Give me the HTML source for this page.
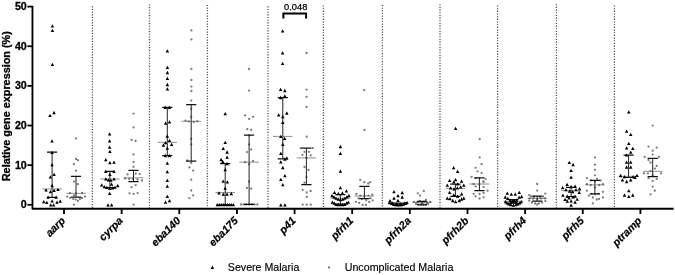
<!DOCTYPE html>
<html lang="en"><head><meta charset="utf-8"><title>Relative gene expression</title>
<style>html,body{margin:0;padding:0;background:#fff}body{width:675px;height:275px;overflow:hidden}svg{display:block}text{font-family:"Liberation Sans",Arial,Helvetica,sans-serif;fill:#000}.b{font-weight:bold}.g{font-weight:bold;font-style:italic;font-size:10.7px;stroke:#000;stroke-width:.22px}.t{font-weight:bold;font-size:10.7px;stroke:#000;stroke-width:.3px}.bar{stroke:#222;stroke-width:1;fill:none}.ax{stroke:#000;stroke-width:1.85;fill:none;stroke-linejoin:round}.dot{stroke:#4a4a4a;stroke-width:1.3;stroke-dasharray:1.1 1.57;fill:none}</style></head><body>
<svg width="675" height="275" viewBox="0 0 675 275">
<rect width="675" height="275" fill="#fff"/>
<g class="dot">
<path d="M92.4 6.3V207.8"/>
<path d="M149.5 4.4V207.8"/>
<path d="M207.4 4.9V207.8"/>
<path d="M268 6.3V207.8" stroke-width="2.1" stroke="#8c8c8c"/>
<path d="M323.4 5.5V207.8"/>
<path d="M382.4 5V207.8"/>
<path d="M440 4.2V207.8" stroke-width="2.1" stroke="#8c8c8c"/>
<path d="M497.6 5.5V207.8"/>
<path d="M556.4 4.2V207.8"/>
<path d="M614.4 5.5V207.8"/>
</g>
<g fill="#7c7c7c">
<circle cx="76" cy="138.4" r="1.15"/>
<circle cx="76" cy="159" r="1.15"/>
<circle cx="78" cy="160.2" r="1.15"/>
<circle cx="74" cy="164" r="1.15"/>
<circle cx="76" cy="170.7" r="1.15"/>
<circle cx="74" cy="181.6" r="1.15"/>
<circle cx="77.9" cy="184.1" r="1.15"/>
<circle cx="70" cy="193.2" r="1.15"/>
<circle cx="76" cy="193.5" r="1.15"/>
<circle cx="82.1" cy="193" r="1.15"/>
<circle cx="67.2" cy="196.6" r="1.15"/>
<circle cx="85" cy="196.6" r="1.15"/>
<circle cx="70.2" cy="197.9" r="1.15"/>
<circle cx="82" cy="197.9" r="1.15"/>
<circle cx="74" cy="195.3" r="1.15"/>
<circle cx="73.3" cy="198.9" r="1.15"/>
<circle cx="79.9" cy="198.9" r="1.15"/>
<circle cx="75.8" cy="199.6" r="1.15"/>
<circle cx="77.9" cy="200.9" r="1.15"/>
<circle cx="74" cy="204.7" r="1.15"/>
<circle cx="133.6" cy="113.6" r="1.15"/>
<circle cx="133.6" cy="127.4" r="1.15"/>
<circle cx="131.6" cy="140" r="1.15"/>
<circle cx="135.6" cy="141" r="1.15"/>
<circle cx="133.5" cy="154.4" r="1.15"/>
<circle cx="133.5" cy="161.9" r="1.15"/>
<circle cx="133.5" cy="166.8" r="1.15"/>
<circle cx="127.5" cy="174.4" r="1.15"/>
<circle cx="135.7" cy="173.7" r="1.15"/>
<circle cx="139.7" cy="174.1" r="1.15"/>
<circle cx="125.2" cy="178.5" r="1.15"/>
<circle cx="142" cy="180.5" r="1.15"/>
<circle cx="129.2" cy="179" r="1.15"/>
<circle cx="132.8" cy="179" r="1.15"/>
<circle cx="137.4" cy="179.5" r="1.15"/>
<circle cx="135.7" cy="185.1" r="1.15"/>
<circle cx="131.6" cy="187.2" r="1.15"/>
<circle cx="129.5" cy="193.3" r="1.15"/>
<circle cx="133.6" cy="193.8" r="1.15"/>
<circle cx="137.6" cy="193.1" r="1.15"/>
<circle cx="133.6" cy="204.7" r="1.15"/>
<circle cx="191.4" cy="30.4" r="1.15"/>
<circle cx="191.4" cy="39.4" r="1.15"/>
<circle cx="191.4" cy="69" r="1.15"/>
<circle cx="191.4" cy="80" r="1.15"/>
<circle cx="191.4" cy="86.6" r="1.15"/>
<circle cx="191.4" cy="91" r="1.15"/>
<circle cx="191.3" cy="100.6" r="1.15"/>
<circle cx="191.2" cy="108.8" r="1.15"/>
<circle cx="191.2" cy="117" r="1.15"/>
<circle cx="185.5" cy="120.6" r="1.15"/>
<circle cx="188.7" cy="121.5" r="1.15"/>
<circle cx="193.7" cy="122" r="1.15"/>
<circle cx="197.2" cy="121.3" r="1.15"/>
<circle cx="191.2" cy="139" r="1.15"/>
<circle cx="191.2" cy="144.4" r="1.15"/>
<circle cx="187.3" cy="160.3" r="1.15"/>
<circle cx="191.2" cy="162.9" r="1.15"/>
<circle cx="189.4" cy="167.4" r="1.15"/>
<circle cx="193.2" cy="170.6" r="1.15"/>
<circle cx="191.2" cy="179.7" r="1.15"/>
<circle cx="191.2" cy="190.5" r="1.15"/>
<circle cx="193.2" cy="195.3" r="1.15"/>
<circle cx="189.4" cy="198.2" r="1.15"/>
<circle cx="249" cy="69" r="1.15"/>
<circle cx="249" cy="90.6" r="1.15"/>
<circle cx="245.1" cy="115.4" r="1.15"/>
<circle cx="253.1" cy="116.8" r="1.15"/>
<circle cx="249.1" cy="118.9" r="1.15"/>
<circle cx="247.2" cy="129.2" r="1.15"/>
<circle cx="251.2" cy="129.9" r="1.15"/>
<circle cx="249.1" cy="135.4" r="1.15"/>
<circle cx="249.1" cy="144.4" r="1.15"/>
<circle cx="251.2" cy="149.4" r="1.15"/>
<circle cx="246.9" cy="152.1" r="1.15"/>
<circle cx="245.1" cy="162.2" r="1.15"/>
<circle cx="253.1" cy="161" r="1.15"/>
<circle cx="249.1" cy="164.2" r="1.15"/>
<circle cx="249.1" cy="181.5" r="1.15"/>
<circle cx="246.9" cy="187.9" r="1.15"/>
<circle cx="251.2" cy="188.6" r="1.15"/>
<circle cx="241" cy="204.5" r="1.15"/>
<circle cx="243.6" cy="204.5" r="1.15"/>
<circle cx="246.2" cy="204.5" r="1.15"/>
<circle cx="249" cy="204.5" r="1.15"/>
<circle cx="251.8" cy="204.5" r="1.15"/>
<circle cx="254.6" cy="204.5" r="1.15"/>
<circle cx="257.4" cy="204.5" r="1.15"/>
<circle cx="306.6" cy="53" r="1.15"/>
<circle cx="306.6" cy="89.6" r="1.15"/>
<circle cx="306.6" cy="96.8" r="1.15"/>
<circle cx="306.6" cy="107" r="1.15"/>
<circle cx="306.7" cy="136.7" r="1.15"/>
<circle cx="300.7" cy="148.2" r="1.15"/>
<circle cx="312.8" cy="148.2" r="1.15"/>
<circle cx="304.5" cy="151.8" r="1.15"/>
<circle cx="308.8" cy="151.8" r="1.15"/>
<circle cx="302.4" cy="154.9" r="1.15"/>
<circle cx="310.7" cy="155.3" r="1.15"/>
<circle cx="306.4" cy="157.9" r="1.15"/>
<circle cx="304.5" cy="167" r="1.15"/>
<circle cx="308.5" cy="170" r="1.15"/>
<circle cx="306.4" cy="177.2" r="1.15"/>
<circle cx="304.5" cy="182.7" r="1.15"/>
<circle cx="302.7" cy="189.8" r="1.15"/>
<circle cx="310.7" cy="191" r="1.15"/>
<circle cx="306.7" cy="192.5" r="1.15"/>
<circle cx="306.7" cy="196.9" r="1.15"/>
<circle cx="302.7" cy="204.7" r="1.15"/>
<circle cx="306.7" cy="204.7" r="1.15"/>
<circle cx="310.7" cy="204.7" r="1.15"/>
<circle cx="364.2" cy="90.2" r="1.15"/>
<circle cx="364.4" cy="130" r="1.15"/>
<circle cx="360.2" cy="179.8" r="1.15"/>
<circle cx="364.3" cy="182.2" r="1.15"/>
<circle cx="368.3" cy="183.5" r="1.15"/>
<circle cx="370.2" cy="182.2" r="1.15"/>
<circle cx="356.4" cy="194" r="1.15"/>
<circle cx="372.3" cy="194.7" r="1.15"/>
<circle cx="360.3" cy="195.6" r="1.15"/>
<circle cx="368.4" cy="195.6" r="1.15"/>
<circle cx="364.4" cy="196" r="1.15"/>
<circle cx="370.5" cy="198.2" r="1.15"/>
<circle cx="372.7" cy="200.4" r="1.15"/>
<circle cx="366.2" cy="200" r="1.15"/>
<circle cx="356" cy="201.8" r="1.15"/>
<circle cx="369.3" cy="202" r="1.15"/>
<circle cx="359.1" cy="202.9" r="1.15"/>
<circle cx="362.7" cy="204.9" r="1.15"/>
<circle cx="366" cy="204.9" r="1.15"/>
<circle cx="358.5" cy="198.4" r="1.15"/>
<circle cx="362" cy="198.9" r="1.15"/>
<circle cx="423.8" cy="190.9" r="1.15"/>
<circle cx="417.8" cy="193.3" r="1.15"/>
<circle cx="420" cy="195.6" r="1.15"/>
<circle cx="426" cy="199.8" r="1.15"/>
<circle cx="420" cy="200.9" r="1.15"/>
<circle cx="414" cy="202" r="1.15"/>
<circle cx="430" cy="202" r="1.15"/>
<circle cx="416" cy="204" r="1.15"/>
<circle cx="418.5" cy="204.3" r="1.15"/>
<circle cx="421" cy="204.5" r="1.15"/>
<circle cx="423.5" cy="204.5" r="1.15"/>
<circle cx="426" cy="204.3" r="1.15"/>
<circle cx="428" cy="204" r="1.15"/>
<circle cx="417" cy="202.6" r="1.15"/>
<circle cx="422" cy="202.8" r="1.15"/>
<circle cx="427" cy="202.6" r="1.15"/>
<circle cx="424" cy="201.6" r="1.15"/>
<circle cx="479.7" cy="139.2" r="1.15"/>
<circle cx="479.7" cy="157.4" r="1.15"/>
<circle cx="481.6" cy="164.2" r="1.15"/>
<circle cx="475.6" cy="167.8" r="1.15"/>
<circle cx="477.6" cy="171.3" r="1.15"/>
<circle cx="481.6" cy="173.1" r="1.15"/>
<circle cx="471.6" cy="176.9" r="1.15"/>
<circle cx="475.6" cy="178.2" r="1.15"/>
<circle cx="485.6" cy="179.1" r="1.15"/>
<circle cx="483.3" cy="181.3" r="1.15"/>
<circle cx="473.6" cy="184" r="1.15"/>
<circle cx="483.6" cy="182" r="1.15"/>
<circle cx="475.6" cy="186.4" r="1.15"/>
<circle cx="483.6" cy="186.9" r="1.15"/>
<circle cx="487.6" cy="190.7" r="1.15"/>
<circle cx="483.6" cy="192.9" r="1.15"/>
<circle cx="473.6" cy="193.8" r="1.15"/>
<circle cx="479.6" cy="194" r="1.15"/>
<circle cx="475.6" cy="196.3" r="1.15"/>
<circle cx="483.6" cy="197.3" r="1.15"/>
<circle cx="479.6" cy="198.5" r="1.15"/>
<circle cx="479.4" cy="184.2" r="1.15"/>
<circle cx="537.2" cy="184" r="1.15"/>
<circle cx="537.2" cy="190.6" r="1.15"/>
<circle cx="545.3" cy="193.6" r="1.15"/>
<circle cx="529.3" cy="195.2" r="1.15"/>
<circle cx="531" cy="196.5" r="1.15"/>
<circle cx="534" cy="197" r="1.15"/>
<circle cx="540" cy="197" r="1.15"/>
<circle cx="543" cy="196.5" r="1.15"/>
<circle cx="529.5" cy="198.4" r="1.15"/>
<circle cx="533" cy="198.6" r="1.15"/>
<circle cx="541" cy="198.6" r="1.15"/>
<circle cx="545" cy="198.4" r="1.15"/>
<circle cx="529.3" cy="200.7" r="1.15"/>
<circle cx="545.3" cy="201.1" r="1.15"/>
<circle cx="532" cy="202.5" r="1.15"/>
<circle cx="535" cy="203.5" r="1.15"/>
<circle cx="539" cy="203.5" r="1.15"/>
<circle cx="542" cy="202.5" r="1.15"/>
<circle cx="537.2" cy="204.5" r="1.15"/>
<circle cx="537.2" cy="199" r="1.15"/>
<circle cx="594.9" cy="157.3" r="1.15"/>
<circle cx="594.9" cy="164.7" r="1.15"/>
<circle cx="594.9" cy="169.8" r="1.15"/>
<circle cx="594.9" cy="175.3" r="1.15"/>
<circle cx="586.9" cy="178.1" r="1.15"/>
<circle cx="597.1" cy="178.9" r="1.15"/>
<circle cx="590.9" cy="180.4" r="1.15"/>
<circle cx="600.7" cy="180.4" r="1.15"/>
<circle cx="594.9" cy="181.5" r="1.15"/>
<circle cx="586.9" cy="184.2" r="1.15"/>
<circle cx="602.9" cy="184.2" r="1.15"/>
<circle cx="590.9" cy="185" r="1.15"/>
<circle cx="599.2" cy="185" r="1.15"/>
<circle cx="594.9" cy="187.6" r="1.15"/>
<circle cx="586.9" cy="190.7" r="1.15"/>
<circle cx="602.9" cy="191.8" r="1.15"/>
<circle cx="591.5" cy="193.8" r="1.15"/>
<circle cx="594.9" cy="194.3" r="1.15"/>
<circle cx="598.5" cy="193.8" r="1.15"/>
<circle cx="588.9" cy="195.7" r="1.15"/>
<circle cx="592.8" cy="197.5" r="1.15"/>
<circle cx="602.9" cy="197.5" r="1.15"/>
<circle cx="596.7" cy="199.5" r="1.15"/>
<circle cx="598.9" cy="199" r="1.15"/>
<circle cx="592.8" cy="203.4" r="1.15"/>
<circle cx="652.7" cy="125.6" r="1.15"/>
<circle cx="648.5" cy="146.6" r="1.15"/>
<circle cx="656.7" cy="147.6" r="1.15"/>
<circle cx="652.7" cy="150.7" r="1.15"/>
<circle cx="652.7" cy="154.6" r="1.15"/>
<circle cx="644.7" cy="156.9" r="1.15"/>
<circle cx="658.9" cy="156.9" r="1.15"/>
<circle cx="648.5" cy="160.1" r="1.15"/>
<circle cx="650.5" cy="162.5" r="1.15"/>
<circle cx="656.7" cy="165.9" r="1.15"/>
<circle cx="654.8" cy="168.6" r="1.15"/>
<circle cx="650.5" cy="171.2" r="1.15"/>
<circle cx="643.9" cy="173.4" r="1.15"/>
<circle cx="647.9" cy="173.4" r="1.15"/>
<circle cx="661.1" cy="173.4" r="1.15"/>
<circle cx="652.7" cy="175.5" r="1.15"/>
<circle cx="648.5" cy="178.2" r="1.15"/>
<circle cx="656.7" cy="178.9" r="1.15"/>
<circle cx="652.7" cy="181.1" r="1.15"/>
<circle cx="652.7" cy="186.6" r="1.15"/>
<circle cx="654.8" cy="190.7" r="1.15"/>
<circle cx="650.6" cy="194.3" r="1.15"/>
</g>
<g class="bar">
<path d="M52.1 152.2V197.3"/>
<path stroke="#111" stroke-width="1.25" d="M47 152.2H57.2M47 197.3H57.2"/>
<path stroke="#555" stroke-width="0.65" d="M42.3 189H61.9"/>
<path d="M76 176.3V197"/>
<path stroke="#111" stroke-width="1.25" d="M70.9 176.3H81.1M70.9 197H81.1"/>
<path stroke="#555" stroke-width="0.65" d="M66.2 193.3H85.8"/>
<path d="M109.9 171.4V187.7"/>
<path stroke="#111" stroke-width="1.25" d="M104.8 171.4H115M104.8 187.7H115"/>
<path stroke="#555" stroke-width="0.65" d="M100.1 179H119.7"/>
<path d="M133.5 170.4V181.6"/>
<path stroke="#111" stroke-width="1.25" d="M128.4 170.4H138.6M128.4 181.6H138.6"/>
<path stroke="#555" stroke-width="0.65" d="M123.7 177.8H143.3"/>
<path d="M167.3 107.4V155.6"/>
<path stroke="#111" stroke-width="1.25" d="M162.2 107.4H172.4M162.2 155.6H172.4"/>
<path stroke="#555" stroke-width="0.65" d="M157.5 142.3H177.1"/>
<path d="M191.2 104.5V161"/>
<path stroke="#111" stroke-width="1.25" d="M186.1 104.5H196.3M186.1 161H196.3"/>
<path stroke="#555" stroke-width="0.65" d="M181.4 121.3H201"/>
<path d="M225.2 163.6V204.9"/>
<path stroke="#111" stroke-width="1.25" d="M220.1 163.6H230.3M220.1 204.9H230.3"/>
<path stroke="#555" stroke-width="0.65" d="M215.4 192.5H235"/>
<path d="M249.1 135.2V204.4"/>
<path stroke="#111" stroke-width="1.25" d="M244 135.2H254.2M244 204.4H254.2"/>
<path stroke="#555" stroke-width="0.65" d="M239.3 162.2H258.9"/>
<path d="M282.8 97.6V158.9"/>
<path stroke="#111" stroke-width="1.25" d="M277.7 97.6H287.9M277.7 158.9H287.9"/>
<path stroke="#555" stroke-width="0.65" d="M273 136.4H292.6"/>
<path d="M306.4 148.2V184.6"/>
<path stroke="#111" stroke-width="1.25" d="M301.3 148.2H311.5M301.3 184.6H311.5"/>
<path stroke="#555" stroke-width="0.65" d="M296.6 157.9H316.2"/>
<path d="M340.4 194.5V204.2"/>
<path stroke="#111" stroke-width="1.25" d="M335.3 194.5H345.5M335.3 204.2H345.5"/>
<path stroke="#555" stroke-width="0.65" d="M330.6 198.2H350.2"/>
<path d="M364.4 186.3V198.7"/>
<path stroke="#111" stroke-width="1.25" d="M359.3 186.3H369.5M359.3 198.7H369.5"/>
<path stroke="#555" stroke-width="0.65" d="M354.6 196H374.2"/>
<path d="M398 203V205"/>
<path stroke="#111" stroke-width="1.25" d="M392.9 203H403.1M392.9 205H403.1"/>
<path stroke="#555" stroke-width="0.65" d="M388.2 204H407.8"/>
<path d="M422 201.3V204.9"/>
<path stroke="#111" stroke-width="1.25" d="M416.9 201.3H427.1M416.9 204.9H427.1"/>
<path stroke="#555" stroke-width="0.65" d="M412.2 202.4H431.8"/>
<path d="M455.4 184V196.4"/>
<path stroke="#111" stroke-width="1.25" d="M450.3 184H460.5M450.3 196.4H460.5"/>
<path stroke="#555" stroke-width="0.65" d="M445.6 188.4H465.2"/>
<path d="M479.4 177.8V190.5"/>
<path stroke="#111" stroke-width="1.25" d="M474.3 177.8H484.5M474.3 190.5H484.5"/>
<path stroke="#555" stroke-width="0.65" d="M469.6 184H489.2"/>
<path d="M513.4 199.6V203.2"/>
<path stroke="#111" stroke-width="1.25" d="M508.3 199.6H518.5M508.3 203.2H518.5"/>
<path stroke="#555" stroke-width="0.65" d="M503.6 201.2H523.2"/>
<path d="M537.2 196.2V201.1"/>
<path stroke="#111" stroke-width="1.25" d="M532.1 196.2H542.3M532.1 201.1H542.3"/>
<path stroke="#555" stroke-width="0.65" d="M527.4 198.4H547"/>
<path d="M571.1 187.4V196.5"/>
<path stroke="#111" stroke-width="1.25" d="M566 187.4H576.2M566 196.5H576.2"/>
<path stroke="#555" stroke-width="0.65" d="M561.3 190.7H580.9"/>
<path d="M594.9 180.4V193.8"/>
<path stroke="#111" stroke-width="1.25" d="M589.8 180.4H600M589.8 193.8H600"/>
<path stroke="#555" stroke-width="0.65" d="M585.1 184.9H604.7"/>
<path d="M628.6 155V177.4"/>
<path stroke="#111" stroke-width="1.25" d="M623.5 155H633.7M623.5 177.4H633.7"/>
<path stroke="#555" stroke-width="0.65" d="M618.8 176.3H638.4"/>
<path d="M652.7 158.4V176.6"/>
<path stroke="#111" stroke-width="1.25" d="M647.6 158.4H657.8M647.6 176.6H657.8"/>
<path stroke="#555" stroke-width="0.65" d="M642.9 171.3H662.5"/>
</g>
<g fill="#000">
<path d="M52.4 24.25l1.75 3.3h-3.5zM52.4 28.65l1.75 3.3h-3.5zM52.4 62.65l1.75 3.3h-3.5zM54 110.85l1.75 3.3h-3.5zM50 113.65l1.75 3.3h-3.5zM52 139.25l1.75 3.3h-3.5zM52.1 150.75l1.75 3.3h-3.5zM52.1 163.05l1.75 3.3h-3.5zM54.1 172.65l1.75 3.3h-3.5zM50.4 175.25l1.75 3.3h-3.5zM52.1 183.85l1.75 3.3h-3.5zM46 188.25l1.75 3.3h-3.5zM58 187.65l1.75 3.3h-3.5zM54.1 188.65l1.75 3.3h-3.5zM50.4 189.95l1.75 3.3h-3.5zM48.1 195.55l1.75 3.3h-3.5zM56.2 195.55l1.75 3.3h-3.5zM52.1 199.15l1.75 3.3h-3.5zM60.2 199.45l1.75 3.3h-3.5zM43.7 199.95l1.75 3.3h-3.5zM46.8 200.65l1.75 3.3h-3.5zM57 200.45l1.75 3.3h-3.5zM50.7 203.25l1.75 3.3h-3.5zM53.6 203.25l1.75 3.3h-3.5zM109.6 132.25l1.75 3.3h-3.5zM109.6 139.25l1.75 3.3h-3.5zM109.6 145.45l1.75 3.3h-3.5zM109.9 149.75l1.75 3.3h-3.5zM105.8 157.95l1.75 3.3h-3.5zM109.9 160.95l1.75 3.3h-3.5zM114 160.45l1.75 3.3h-3.5zM105.8 169.65l1.75 3.3h-3.5zM114 169.65l1.75 3.3h-3.5zM109.9 172.65l1.75 3.3h-3.5zM105.8 177.25l1.75 3.3h-3.5zM114 177.25l1.75 3.3h-3.5zM108.4 178.25l1.75 3.3h-3.5zM110.9 178.55l1.75 3.3h-3.5zM101.7 183.15l1.75 3.3h-3.5zM111.6 182.55l1.75 3.3h-3.5zM117.7 183.85l1.75 3.3h-3.5zM104.3 184.95l1.75 3.3h-3.5zM106.8 185.65l1.75 3.3h-3.5zM115 185.45l1.75 3.3h-3.5zM112.4 186.25l1.75 3.3h-3.5zM109.7 186.75l1.75 3.3h-3.5zM109.7 191.75l1.75 3.3h-3.5zM108 203.25l1.75 3.3h-3.5zM111.6 203.25l1.75 3.3h-3.5zM167.4 49.25l1.75 3.3h-3.5zM167.4 65.65l1.75 3.3h-3.5zM167.4 70.85l1.75 3.3h-3.5zM167.4 76.65l1.75 3.3h-3.5zM167.4 82.85l1.75 3.3h-3.5zM167.4 87.25l1.75 3.3h-3.5zM165.3 105.65l1.75 3.3h-3.5zM169.4 105.65l1.75 3.3h-3.5zM165.6 121.45l1.75 3.3h-3.5zM169.5 120.25l1.75 3.3h-3.5zM167.3 134.45l1.75 3.3h-3.5zM169.5 138.65l1.75 3.3h-3.5zM165.5 141.05l1.75 3.3h-3.5zM163.4 143.35l1.75 3.3h-3.5zM171.6 142.65l1.75 3.3h-3.5zM167.3 146.45l1.75 3.3h-3.5zM165.3 153.85l1.75 3.3h-3.5zM169.4 153.85l1.75 3.3h-3.5zM167.3 161.45l1.75 3.3h-3.5zM167.3 170.05l1.75 3.3h-3.5zM167.3 178.75l1.75 3.3h-3.5zM167.3 184.45l1.75 3.3h-3.5zM167.3 194.65l1.75 3.3h-3.5zM169.5 198.95l1.75 3.3h-3.5zM165.5 200.35l1.75 3.3h-3.5zM225.2 112.05l1.75 3.3h-3.5zM225.2 140.75l1.75 3.3h-3.5zM223.2 146.75l1.75 3.3h-3.5zM227.1 150.35l1.75 3.3h-3.5zM227.1 155.45l1.75 3.3h-3.5zM221.1 157.85l1.75 3.3h-3.5zM222.8 159.95l1.75 3.3h-3.5zM227.1 161.85l1.75 3.3h-3.5zM225.2 167.95l1.75 3.3h-3.5zM223.2 179.45l1.75 3.3h-3.5zM227.4 180.15l1.75 3.3h-3.5zM225.2 186.55l1.75 3.3h-3.5zM219 191.15l1.75 3.3h-3.5zM231.3 191.85l1.75 3.3h-3.5zM223.2 192.55l1.75 3.3h-3.5zM227.1 192.55l1.75 3.3h-3.5zM217.3 202.95l1.75 3.3h-3.5zM219.3 202.95l1.75 3.3h-3.5zM221.3 202.95l1.75 3.3h-3.5zM223.3 202.95l1.75 3.3h-3.5zM225.3 202.95l1.75 3.3h-3.5zM227.3 202.95l1.75 3.3h-3.5zM229.3 202.95l1.75 3.3h-3.5zM231.3 202.95l1.75 3.3h-3.5zM233.3 202.95l1.75 3.3h-3.5zM282.6 29.25l1.75 3.3h-3.5zM282.6 51.25l1.75 3.3h-3.5zM282.6 61.65l1.75 3.3h-3.5zM280.6 87.65l1.75 3.3h-3.5zM284.8 88.85l1.75 3.3h-3.5zM284.8 94.25l1.75 3.3h-3.5zM280.6 95.85l1.75 3.3h-3.5zM278.7 113.15l1.75 3.3h-3.5zM286.8 111.35l1.75 3.3h-3.5zM282.8 115.05l1.75 3.3h-3.5zM282.8 120.75l1.75 3.3h-3.5zM280.8 134.65l1.75 3.3h-3.5zM284.6 136.65l1.75 3.3h-3.5zM282.8 142.65l1.75 3.3h-3.5zM280.8 151.75l1.75 3.3h-3.5zM286.8 156.15l1.75 3.3h-3.5zM284.9 157.55l1.75 3.3h-3.5zM280.8 160.25l1.75 3.3h-3.5zM282.8 165.85l1.75 3.3h-3.5zM284.9 174.05l1.75 3.3h-3.5zM280.8 177.65l1.75 3.3h-3.5zM282.8 183.05l1.75 3.3h-3.5zM280.8 203.25l1.75 3.3h-3.5zM284.9 203.25l1.75 3.3h-3.5zM340.4 144.85l1.75 3.3h-3.5zM340.4 151.65l1.75 3.3h-3.5zM340.4 169.45l1.75 3.3h-3.5zM340.4 185.95l1.75 3.3h-3.5zM334.5 190.65l1.75 3.3h-3.5zM346.4 189.15l1.75 3.3h-3.5zM338.4 191.85l1.75 3.3h-3.5zM342.4 191.15l1.75 3.3h-3.5zM332 193.85l1.75 3.3h-3.5zM348.9 193.85l1.75 3.3h-3.5zM334 195.15l1.75 3.3h-3.5zM346.9 195.15l1.75 3.3h-3.5zM336 196.45l1.75 3.3h-3.5zM344.9 196.45l1.75 3.3h-3.5zM338.2 197.55l1.75 3.3h-3.5zM342.8 197.55l1.75 3.3h-3.5zM340.4 198.05l1.75 3.3h-3.5zM332.3 200.45l1.75 3.3h-3.5zM348.4 200.45l1.75 3.3h-3.5zM334.2 201.35l1.75 3.3h-3.5zM346.7 201.35l1.75 3.3h-3.5zM336 202.65l1.75 3.3h-3.5zM338.2 202.85l1.75 3.3h-3.5zM340.4 202.95l1.75 3.3h-3.5zM342.6 202.85l1.75 3.3h-3.5zM344.8 202.65l1.75 3.3h-3.5zM394 190.05l1.75 3.3h-3.5zM402.2 190.85l1.75 3.3h-3.5zM398 193.85l1.75 3.3h-3.5zM402.2 195.35l1.75 3.3h-3.5zM394 196.45l1.75 3.3h-3.5zM398 198.65l1.75 3.3h-3.5zM390 198.95l1.75 3.3h-3.5zM389.5 200.75l1.75 3.3h-3.5zM391.5 201.75l1.75 3.3h-3.5zM393.5 202.55l1.75 3.3h-3.5zM395.5 203.05l1.75 3.3h-3.5zM397.5 203.25l1.75 3.3h-3.5zM399.5 203.25l1.75 3.3h-3.5zM401.5 203.05l1.75 3.3h-3.5zM403.5 202.55l1.75 3.3h-3.5zM405.5 201.75l1.75 3.3h-3.5zM407 200.75l1.75 3.3h-3.5zM392.5 201.35l1.75 3.3h-3.5zM404.4 201.35l1.75 3.3h-3.5zM396.5 202.25l1.75 3.3h-3.5zM400.5 202.25l1.75 3.3h-3.5zM455.6 126.75l1.75 3.3h-3.5zM453.6 166.05l1.75 3.3h-3.5zM457.6 169.65l1.75 3.3h-3.5zM449.6 178.65l1.75 3.3h-3.5zM455.6 178.05l1.75 3.3h-3.5zM461.6 179.45l1.75 3.3h-3.5zM453.8 180.25l1.75 3.3h-3.5zM457.7 182.25l1.75 3.3h-3.5zM447.3 183.55l1.75 3.3h-3.5zM463.8 183.55l1.75 3.3h-3.5zM460.7 185.15l1.75 3.3h-3.5zM450.6 186.25l1.75 3.3h-3.5zM457.4 186.25l1.75 3.3h-3.5zM454 187.15l1.75 3.3h-3.5zM449.6 190.65l1.75 3.3h-3.5zM461.6 192.25l1.75 3.3h-3.5zM453.8 193.15l1.75 3.3h-3.5zM457.6 194.45l1.75 3.3h-3.5zM447.3 196.45l1.75 3.3h-3.5zM463.8 196.45l1.75 3.3h-3.5zM450 196.95l1.75 3.3h-3.5zM461.6 197.35l1.75 3.3h-3.5zM452.7 198.85l1.75 3.3h-3.5zM459.3 198.85l1.75 3.3h-3.5zM455.6 200.05l1.75 3.3h-3.5zM507.3 191.45l1.75 3.3h-3.5zM511.3 192.45l1.75 3.3h-3.5zM515.3 192.45l1.75 3.3h-3.5zM519.3 190.65l1.75 3.3h-3.5zM505.3 195.35l1.75 3.3h-3.5zM521.6 194.85l1.75 3.3h-3.5zM507.8 196.75l1.75 3.3h-3.5zM519.1 195.55l1.75 3.3h-3.5zM510.2 198.55l1.75 3.3h-3.5zM516.6 198.55l1.75 3.3h-3.5zM512.3 199.55l1.75 3.3h-3.5zM514.6 199.55l1.75 3.3h-3.5zM513.4 199.05l1.75 3.3h-3.5zM511 200.35l1.75 3.3h-3.5zM515.8 200.35l1.75 3.3h-3.5zM505.5 200.05l1.75 3.3h-3.5zM521.2 200.05l1.75 3.3h-3.5zM507 201.25l1.75 3.3h-3.5zM519.8 201.25l1.75 3.3h-3.5zM508.8 202.25l1.75 3.3h-3.5zM518 202.25l1.75 3.3h-3.5zM510.8 203.05l1.75 3.3h-3.5zM516 203.05l1.75 3.3h-3.5zM513.4 203.45l1.75 3.3h-3.5zM569.3 160.75l1.75 3.3h-3.5zM573.1 162.85l1.75 3.3h-3.5zM571.1 168.65l1.75 3.3h-3.5zM571.1 175.55l1.75 3.3h-3.5zM567.1 182.65l1.75 3.3h-3.5zM562.6 185.85l1.75 3.3h-3.5zM571.1 184.95l1.75 3.3h-3.5zM575.1 184.45l1.75 3.3h-3.5zM579.5 186.95l1.75 3.3h-3.5zM566 188.05l1.75 3.3h-3.5zM576 188.05l1.75 3.3h-3.5zM569.6 189.35l1.75 3.3h-3.5zM572.7 189.85l1.75 3.3h-3.5zM579.2 190.65l1.75 3.3h-3.5zM562.9 193.45l1.75 3.3h-3.5zM567.2 194.45l1.75 3.3h-3.5zM575.1 194.55l1.75 3.3h-3.5zM573.1 195.15l1.75 3.3h-3.5zM569 196.25l1.75 3.3h-3.5zM565.1 197.75l1.75 3.3h-3.5zM577.2 197.45l1.75 3.3h-3.5zM567.3 199.45l1.75 3.3h-3.5zM571.1 199.15l1.75 3.3h-3.5zM575.1 200.45l1.75 3.3h-3.5zM571.1 203.55l1.75 3.3h-3.5zM628.8 110.25l1.75 3.3h-3.5zM626.6 129.45l1.75 3.3h-3.5zM630.7 132.75l1.75 3.3h-3.5zM628.8 141.65l1.75 3.3h-3.5zM626.6 146.15l1.75 3.3h-3.5zM632.8 146.65l1.75 3.3h-3.5zM630.7 150.45l1.75 3.3h-3.5zM626.6 153.25l1.75 3.3h-3.5zM626.6 160.55l1.75 3.3h-3.5zM630.7 160.55l1.75 3.3h-3.5zM626.6 165.35l1.75 3.3h-3.5zM630.7 165.35l1.75 3.3h-3.5zM620.6 173.85l1.75 3.3h-3.5zM637 173.75l1.75 3.3h-3.5zM624.5 174.95l1.75 3.3h-3.5zM633.1 174.95l1.75 3.3h-3.5zM635 175.75l1.75 3.3h-3.5zM622.5 178.15l1.75 3.3h-3.5zM630.7 178.15l1.75 3.3h-3.5zM626.6 179.85l1.75 3.3h-3.5zM628.8 189.05l1.75 3.3h-3.5zM624.5 193.35l1.75 3.3h-3.5zM632.8 193.35l1.75 3.3h-3.5zM628.8 194.75l1.75 3.3h-3.5z"/>
</g>
<g class="ax">
<path d="M32.45 5.7V208.75H673.6"/>
<path d="M27.4 204.8H32" stroke-width="1.75"/>
<path d="M27.4 165.16H32" stroke-width="1.75"/>
<path d="M27.4 125.52H32" stroke-width="1.75"/>
<path d="M27.4 85.88H32" stroke-width="1.75"/>
<path d="M27.4 46.24H32" stroke-width="1.75"/>
<path d="M27.4 6.6H32" stroke-width="1.75"/>
<path d="M64 208.75V214"/>
<path d="M121.64 208.75V214"/>
<path d="M179.28 208.75V214"/>
<path d="M236.92 208.75V214"/>
<path d="M294.56 208.75V214"/>
<path d="M352.2 208.75V214"/>
<path d="M409.84 208.75V214"/>
<path d="M467.48 208.75V214"/>
<path d="M525.12 208.75V214"/>
<path d="M582.76 208.75V214"/>
<path d="M640.4 208.75V214"/>
</g>
<text class="t" x="26.8" y="208.25" text-anchor="end">0</text>
<text class="t" x="26.8" y="168.61" text-anchor="end">10</text>
<text class="t" x="26.8" y="128.97" text-anchor="end">20</text>
<text class="t" x="26.8" y="89.33" text-anchor="end">30</text>
<text class="t" x="26.8" y="49.69" text-anchor="end">40</text>
<text class="t" x="26.8" y="10.05" text-anchor="end">50</text>
<text class="t" style="font-size:10.85px" transform="translate(10.2 106.2) rotate(-90)" text-anchor="middle">Relative gene expression (%)</text>
<text class="g" transform="translate(65.85 221.35) rotate(-45)" text-anchor="end">aarp</text>
<text class="g" transform="translate(123.49 221.35) rotate(-45)" text-anchor="end">cyrpa</text>
<text class="g" transform="translate(181.13 221.35) rotate(-45)" text-anchor="end">eba140</text>
<text class="g" transform="translate(238.77 221.35) rotate(-45)" text-anchor="end">eba175</text>
<text class="g" transform="translate(296.41 221.35) rotate(-45)" text-anchor="end">p41</text>
<text class="g" transform="translate(354.05 221.35) rotate(-45)" text-anchor="end">pfrh1</text>
<text class="g" transform="translate(411.69 221.35) rotate(-45)" text-anchor="end">pfrh2a</text>
<text class="g" transform="translate(469.33 221.35) rotate(-45)" text-anchor="end">pfrh2b</text>
<text class="g" transform="translate(526.97 221.35) rotate(-45)" text-anchor="end">pfrh4</text>
<text class="g" transform="translate(584.61 221.35) rotate(-45)" text-anchor="end">pfrh5</text>
<text class="g" transform="translate(642.25 221.35) rotate(-45)" text-anchor="end">ptramp</text>
<path d="M283.4 18.5V13.6H306.1V18.5" stroke="#000" stroke-width="2" fill="none"/>
<text x="295.7" y="10.4" font-size="9.3" stroke="#000" stroke-width="0.25" text-anchor="middle">0.048</text>
<path d="M212.4 265.6l1.75 3.3h-3.5z" fill="#000"/>
<circle cx="329" cy="267.5" r="1.15" fill="#7c7c7c"/>
<text x="227.8" y="271" font-size="10.65" stroke="#000" stroke-width="0.15">Severe Malaria</text>
<text x="344.7" y="271" font-size="10.7" stroke="#000" stroke-width="0.15">Uncomplicated Malaria</text>
</svg></body></html>
